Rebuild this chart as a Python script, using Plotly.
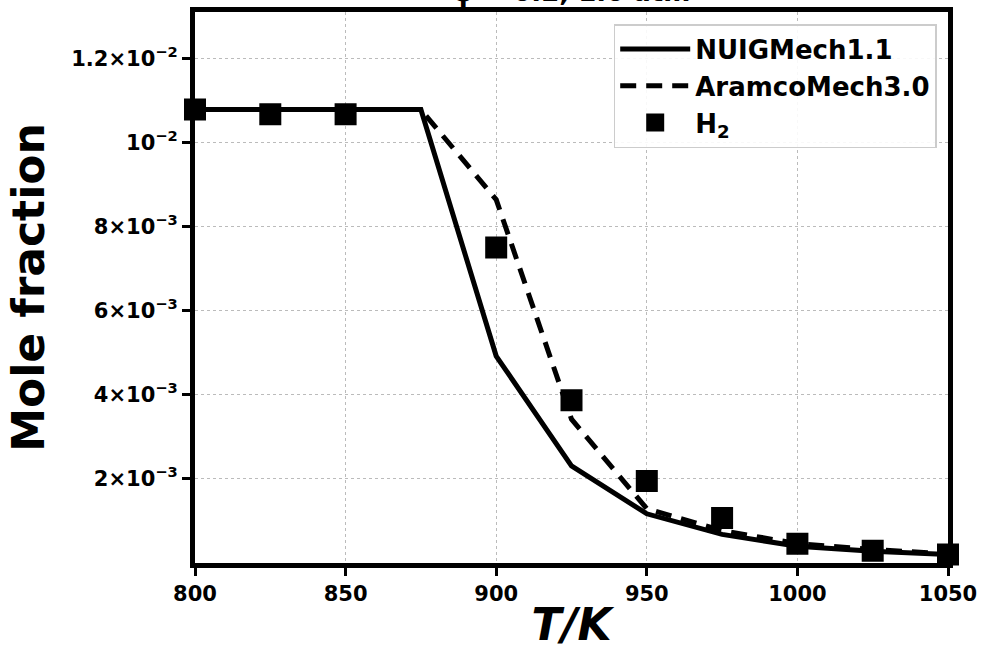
import plotly.graph_objects as go

T_model = [800, 825, 850, 875, 900, 925, 950, 975, 1000, 1025, 1050]
nuig = [0.01078, 0.01078, 0.01078, 0.01078, 0.00492, 0.00231, 0.00117, 0.00068, 0.00040, 0.00028, 0.00020]
aramco = [0.01078, 0.01078, 0.01078, 0.01078, 0.00864, 0.00342, 0.00129, 0.00077, 0.00046, 0.00032, 0.00022]

T_exp = [800, 825, 850, 900, 925, 950, 975, 1000, 1025, 1050]
h2_exp = [0.01078, 0.01067, 0.01067, 0.00750, 0.00387, 0.00195, 0.00107, 0.00046, 0.00029, 0.00020]

x_ticks = [800, 850, 900, 950, 1000, 1050]
y_tickvals = [0.002, 0.004, 0.006, 0.008, 0.010, 0.012]
y_ticktext = ["2×10<sup>−3</sup>", "4×10<sup>−3</sup>", "6×10<sup>−3</sup>",
              "8×10<sup>−3</sup>", "10<sup>−2</sup>", "1.2×10<sup>−2</sup>"]

FONT = "DejaVu Sans"

fig = go.Figure()
fig.add_trace(go.Scatter(x=T_model, y=nuig, mode="lines", name="<b>NUIGMech1.1</b>",
                         legendgroup="a",
                         line=dict(color="black", width=5)))
fig.add_trace(go.Scatter(x=T_model, y=aramco, mode="lines", name="<b>AramcoMech3.0</b>",
                         legendgroup="b",
                         line=dict(color="black", width=5, dash="16px,10px")))
fig.add_trace(go.Scatter(x=T_exp, y=h2_exp, mode="markers", name="<b>H<sub>2</sub></b>",
                         legendgroup="c",
                         marker=dict(symbol="square", size=20, color="black",
                                     line=dict(color="black", width=2)),
                         cliponaxis=False))

axis_common = dict(showline=True, linecolor="black", linewidth=5, mirror=True,
                   ticks="outside", ticklen=8, tickwidth=3, tickcolor="black",
                   showgrid=True, gridcolor="#bbbbbb", griddash="dot", gridwidth=1,
                   zeroline=False, automargin=False,
                   tickfont=dict(family=FONT, size=21, color="black", weight="bold"))

fig.update_xaxes(range=[800, 1050], tickvals=x_ticks,
                 title=dict(text="<b><i>T/K</i></b>", font=dict(family=FONT, size=44, color="black"),
                            standoff=10),
                 **axis_common)
fig.update_yaxes(range=[0, 0.0131], tickvals=y_tickvals, ticktext=y_ticktext,
                 title=dict(text="<b>Mole fraction</b>", font=dict(family=FONT, size=44, color="black"),
                            standoff=14),
                 **axis_common)

fig.add_annotation(text="<b>φ = 0.2, 1.0 atm</b>", xref="paper", yref="paper", x=0.5, y=1,
                   xanchor="center", yanchor="bottom", yshift=3, showarrow=False,
                   font=dict(family=FONT, size=26, color="black"))

fig.update_layout(
    width=984, height=650,
    margin=dict(l=195, r=36, t=12, b=87),
    plot_bgcolor="white", paper_bgcolor="white",
    legend=dict(x=0.985, y=0.978, xanchor="right", yanchor="top",
                bgcolor="rgba(255,255,255,0.9)", bordercolor="#cccccc", borderwidth=1.5,
                font=dict(family=FONT, size=26, color="black"),
                itemwidth=70, tracegroupgap=0),
    showlegend=True,
)

fig.write_html("out.html")
